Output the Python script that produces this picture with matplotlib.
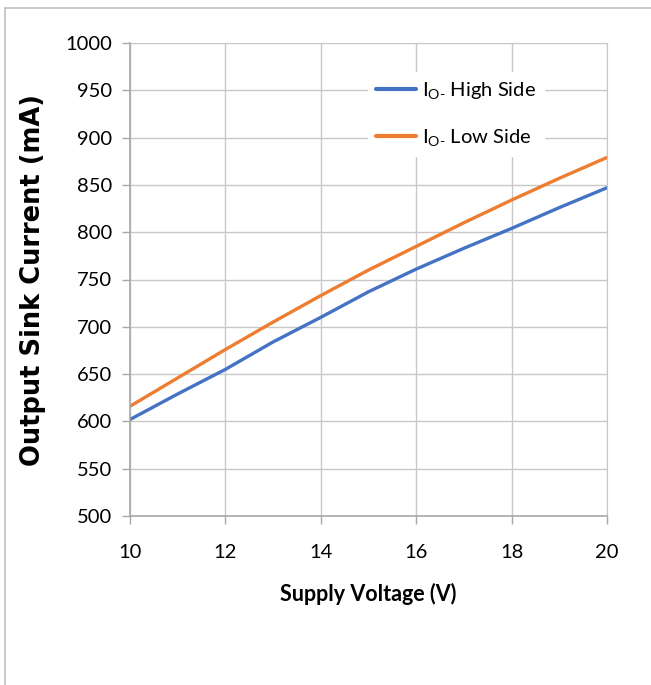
import matplotlib
matplotlib.use("Agg")
import matplotlib.pyplot as plt
from matplotlib.patches import Rectangle

voltage = [10, 11, 12, 13, 14, 15, 16, 17, 18, 19, 20]
high_side = [602, 629, 655, 684, 710, 737, 761, 783, 804, 826, 847]
low_side = [616, 646, 676, 705, 733, 760, 785, 810, 834, 857, 879]
xticks = [10, 12, 14, 16, 18, 20]
yticks = list(range(500, 1001, 50))
labels = [r"I$_{\mathregular{O\text{-}}}$ High Side", r"I$_{\mathregular{O\text{-}}}$ Low Side"]

plt.rcParams["mathtext.fontset"] = "custom"
plt.rcParams["mathtext.rm"] = "Lato"
plt.rcParams["mathtext.it"] = "Lato:italic"
plt.rcParams["mathtext.bf"] = "Lato:bold"

W, H = 651, 685
fig = plt.figure(figsize=(W / 100, H / 100), dpi=100)
fig.patches.append(Rectangle((4.5 / W, -0.1), 1.2, 1 - 8.5 / H + 0.1,
                             transform=fig.transFigure, fill=False,
                             edgecolor="#BFBFBF", linewidth=1.2))

ax = fig.add_axes([130 / W, 1 - 516 / H, (607 - 130) / W, (516 - 43) / H])

tick_font = ["Lato", "DejaVu Sans"]
blue = "#4472C4"
orange = "#ED7D31"

ax.plot(voltage, high_side, color=blue, lw=2.4, label=labels[0], solid_capstyle="round")
ax.plot(voltage, low_side, color=orange, lw=2.4, label=labels[1], solid_capstyle="round")

ax.set_xlim(10, 20)
ax.set_ylim(500, 1000)
ax.set_xticks(xticks)
ax.set_yticks(yticks)
ax.grid(True, color="#C8C8C8", lw=1.0)
ax.set_axisbelow(True)
for s in ["top", "right"]:
    ax.spines[s].set_color("#C8C8C8")
for s in ["left", "bottom"]:
    ax.spines[s].set_color("#A8A8A8")
    ax.spines[s].set_linewidth(1.2)
ax.tick_params(axis="both", color="#A8A8A8", length=6, width=1.0, labelsize=14.5)
ax.tick_params(axis="y", pad=7)
ax.tick_params(axis="x", pad=14)
for lab in ax.get_xticklabels() + ax.get_yticklabels():
    lab.set_family(tick_font)

ax.set_xlabel("Supply Voltage (V)", fontsize=15.5, fontweight="bold",
              family=tick_font, labelpad=16)
ax.set_ylabel("Output Sink Current (mA)", fontsize=18.5, fontweight="bold",
              family=["DejaVu Sans"], labelpad=14)

leg = ax.legend(loc="center left", bbox_to_anchor=((368 - 130) / (607 - 130), (516 - 114) / (516 - 43)),
                frameon=True, fancybox=False, edgecolor="white", framealpha=1,
                prop={"family": tick_font, "size": 14.5}, handlelength=2.0,
                handletextpad=0.3, labelspacing=1.25, borderaxespad=0, borderpad=0.4)
for line in leg.get_lines():
    line.set_linewidth(3)

fig.savefig("out.png", dpi=100)
